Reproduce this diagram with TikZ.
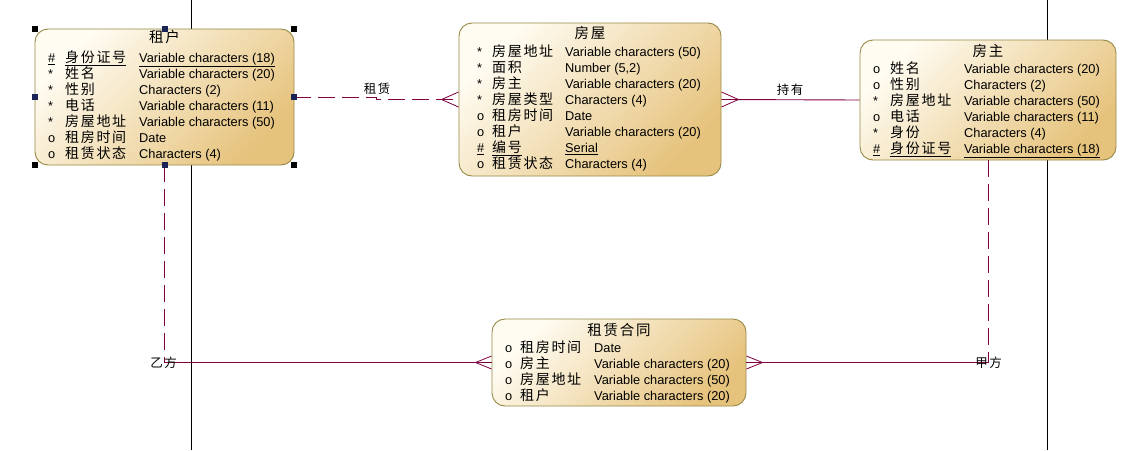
\documentclass[tikz,border=0pt]{standalone}
\usepackage{fontspec}
\setmainfont{Liberation Sans}
\newfontfamily\cjk[LetterSpace=12]{Noto Sans CJK SC}
\usetikzlibrary{calc}
\definecolor{relc}{RGB}{128,0,64}
\definecolor{ebord}{RGB}{150,138,70}
\definecolor{elight}{RGB}{255,252,242}
\definecolor{edark}{RGB}{230,195,125}
\definecolor{hnavy}{RGB}{25,35,85}
\newcommand\myrow[9]{%
  \node[symb] (#1s#2) at (#3,#6+4.5) {#7};
  \node[zh]   (#1n#2) at (#4,#6+4.5) {#8};
  \node[lat]  (#1t#2) at (#5,#6+4.5) {#9};
}
\begin{document}
\begin{tikzpicture}[x=1pt,y=-1pt,
  ent/.style={draw=ebord, line width=0.9pt, rounded corners=13pt, top color=elight, bottom color=edark, shading angle=45, inner sep=0pt},
  lat/.style={anchor=base west, inner sep=0pt, font=\fontsize{12.8}{14}\selectfont},
  symb/.style={lat},
  zh/.style={anchor=base west, inner sep=0pt, font=\cjk\fontsize{14}{16}\selectfont},
  ttl/.style={anchor=base, inner sep=0pt, font=\cjk\fontsize{14.5}{16}\selectfont},
  lbl/.style={anchor=base, inner sep=0pt, font=\cjk\fontsize{12.5}{14}\selectfont},
  relline/.style={draw=relc, line width=0.9pt},
  reldash/.style={relline, dash pattern=on 17pt off 7pt},
  crow/.style={draw=relc, line width=0.8pt},
  handle/.style={fill=black, minimum size=6pt, inner sep=0pt},
  handlem/.style={fill=hnavy, minimum size=6pt, inner sep=0pt},
  vline/.style={draw=black, line width=0.9pt}
]
\useasboundingbox[fill=white] (0,0) rectangle (1147,450);
% background vertical lines
\coordinate (v1t) at (191,0); \coordinate (v1b) at (191,450);
\coordinate (v2t) at (1047,0); \coordinate (v2b) at (1047,450);
\draw[vline] (v1t) -- (v1b);
\draw[vline] (v2t) -- (v2b);
% entities
\node[ent, minimum width=259pt, minimum height=136pt] (zuhu) at (164.5,97) {};
\node[ent, minimum width=262pt, minimum height=153pt] (fangwu) at (590,99.5) {};
\node[ent, minimum width=256pt, minimum height=120pt] (fangzhu) at (988,100) {};
\node[ent, minimum width=254pt, minimum height=87pt] (hetong) at (619,362.5) {};
% connectors
% 租赁
\draw[reldash] (zuhu.east) -| ($(zuhu.east)!0.5!(fangwu.west)$) |- (fangwu.west);
\draw[crow] ($(fangwu.west)+(0,-7.5)$) -- ($(fangwu.west)+(-17,0)$) -- ($(fangwu.west)+(0,7.5)$);
% 持有
\draw[relline] (fangwu.east) -- (fangzhu.west);
\draw[crow] ($(fangwu.east)+(0,-7.5)$) -- ($(fangwu.east)+(17,0)$) -- ($(fangwu.east)+(0,7.5)$);
% 乙方
\coordinate (yi) at (zuhu.south |- hetong.west);
\draw[reldash] (zuhu.south) -- (yi);
\draw[relline] (yi) -- (hetong.west);
\draw[crow] ($(hetong.west)+(0,-6.5)$) -- ($(hetong.west)+(-16,0)$) -- ($(hetong.west)+(0,6.5)$);
% 甲方
\coordinate (jia) at (fangzhu.south |- hetong.east);
\draw[reldash] (fangzhu.south) -- (jia);
\draw[relline] (jia) -- (hetong.east);
\draw[crow] ($(hetong.east)+(0,-6.5)$) -- ($(hetong.east)+(16,0)$) -- ($(hetong.east)+(0,6.5)$);
% labels
\node[lbl] (l1) at (377,93) {租赁};
\node[lbl] (l2) at (790,94) {持有};
\node[lbl] (l3) at (163.5,367) {乙方};
\node[lbl] (l4) at (988.5,367) {甲方};
% selection handles
\node[handle] (h1) at (zuhu.north west) {};
\node[handle] (h2) at (zuhu.north east) {};
\node[handle] (h3) at (zuhu.south west) {};
\node[handle] (h4) at (zuhu.south east) {};
\node[handlem] (h5) at (zuhu.north) {};
\node[handlem] (h6) at (zuhu.south) {};
\node[handlem] (h7) at (zuhu.west) {};
\node[handlem] (h8) at (zuhu.east) {};
% titles
\node[ttl] (zuhuT) at (164.5,42.5) {租户};
\node[ttl] (fangwuT) at (590,38.5) {房屋};
\node[ttl] (fangzhuT) at (988,56.5) {房主};
\node[ttl] (hetongT) at (619,335.5) {租赁合同};
% 租户 rows
\myrow{a}{1}{48}{65}{139}{58}{\underline{\#}}{\underline{身份证号}}{\underline{Variable characters (18)}}
\myrow{a}{2}{48}{65}{139}{74}{*}{姓名}{Variable characters (20)}
\myrow{a}{3}{48}{65}{139}{90}{*}{性别}{Characters (2)}
\myrow{a}{4}{48}{65}{139}{106}{*}{电话}{Variable characters (11)}
\myrow{a}{5}{48}{65}{139}{122}{*}{房屋地址}{Variable characters (50)}
\myrow{a}{6}{48}{65}{139}{138}{o}{租房时间}{Date}
\myrow{a}{7}{48}{65}{139}{154}{o}{租赁状态}{Characters (4)}
% 房屋 rows
\myrow{b}{1}{477}{492}{565}{52}{*}{房屋地址}{Variable characters (50)}
\myrow{b}{2}{477}{492}{565}{68}{*}{面积}{Number (5,2)}
\myrow{b}{3}{477}{492}{565}{84}{*}{房主}{Variable characters (20)}
\myrow{b}{4}{477}{492}{565}{100}{*}{房屋类型}{Characters (4)}
\myrow{b}{5}{477}{492}{565}{116}{o}{租房时间}{Date}
\myrow{b}{6}{477}{492}{565}{132}{o}{租户}{Variable characters (20)}
\myrow{b}{7}{477}{492}{565}{148}{\underline{\#}}{\underline{编号}}{\underline{Serial}}
\myrow{b}{8}{477}{492}{565}{164}{o}{租赁状态}{Characters (4)}
% 房主 rows
\myrow{c}{1}{873}{890}{964}{69}{o}{姓名}{Variable characters (20)}
\myrow{c}{2}{873}{890}{964}{85}{o}{性别}{Characters (2)}
\myrow{c}{3}{873}{890}{964}{101}{*}{房屋地址}{Variable characters (50)}
\myrow{c}{4}{873}{890}{964}{117}{o}{电话}{Variable characters (11)}
\myrow{c}{5}{873}{890}{964}{133}{*}{身份}{Characters (4)}
\myrow{c}{6}{873}{890}{964}{149}{\underline{\#}}{\underline{身份证号}}{\underline{Variable characters (18)}}
% 租赁合同 rows
\myrow{d}{1}{505}{520}{594}{348}{o}{租房时间}{Date}
\myrow{d}{2}{505}{520}{594}{364}{o}{房主}{Variable characters (20)}
\myrow{d}{3}{505}{520}{594}{380}{o}{房屋地址}{Variable characters (50)}
\myrow{d}{4}{505}{520}{594}{396}{o}{租户}{Variable characters (20)}
\end{tikzpicture}
\end{document}
